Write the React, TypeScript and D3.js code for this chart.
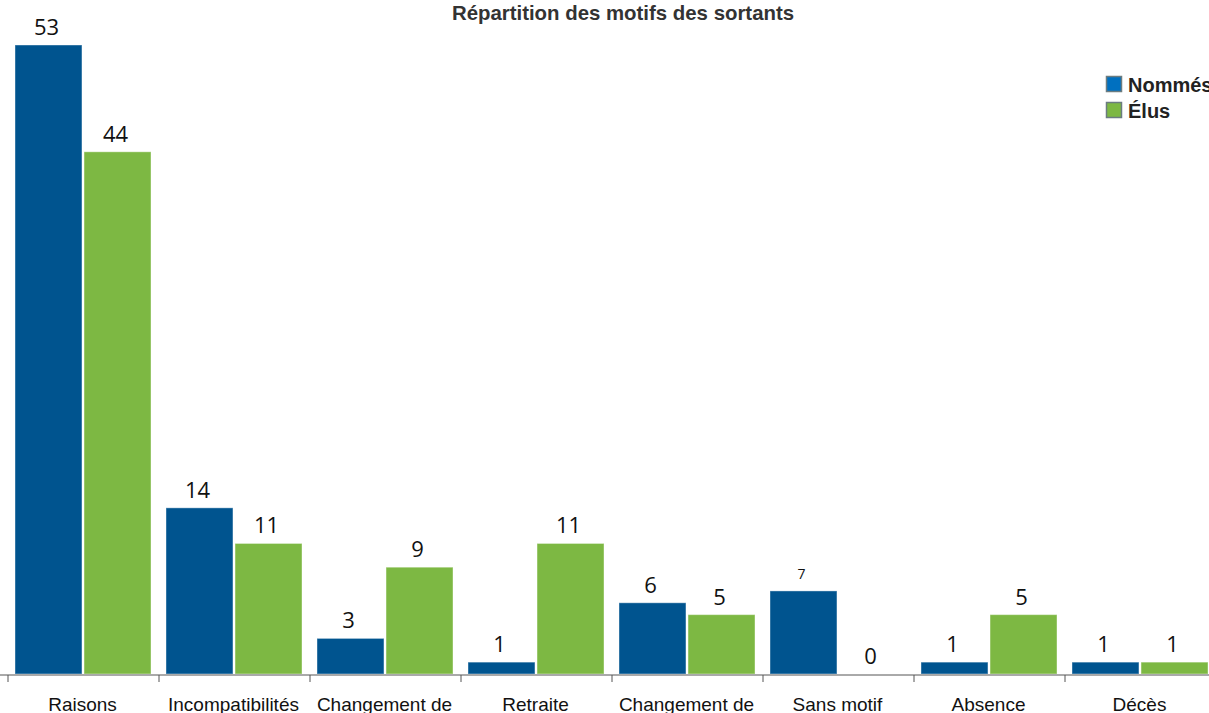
import React from "react";
import * as d3 from "d3";

const categories = ["Raisons", "Incompatibilités", "Changement de", "Retraite", "Changement de", "Sans motif", "Absence", "Décès"];
const seriesNames = ["Nommés", "Élus"];
const nommes = [53, 14, 3, 1, 6, 7, 1, 1];
const elus = [44, 11, 9, 11, 5, 0, 5, 1];
const colors = ["#00548F", "#7DB843"];

const W = 1209;
const H = 713;

export default function App() {
  const idx = categories.map((_, i) => String(i));
  const x0 = d3.scaleBand<string>().domain(idx).range([8, 8 + 151 * categories.length]).padding(0);
  const x1 = d3.scaleBand<string>().domain(seriesNames).range([7, 143]).paddingInner(0.03);
  const y = d3.scaleLinear().domain([0, 53]).range([674, 45]);
  const series = [nommes, elus];
  const ticks = d3.range(categories.length + 1).map((i) => 8 + i * x0.step());

  return (
    <svg width={W} height={H} style={{ position: "absolute", left: 0, top: 0, background: "#fff" }}>
      <text x={623} y={20} textAnchor="middle" fontFamily="Liberation Sans, Arial, sans-serif" fontWeight="bold" fontSize={20.4} fill="#333">
        Répartition des motifs des sortants
      </text>
      {categories.map((c, i) => (
        <g key={i} transform={`translate(${x0(String(i))},0)`}>
          {series.map((s, k) => {
            const v = s[i];
            const bx = x1(seriesNames[k])!;
            const bw = x1.bandwidth();
            const top = y(v);
            const small = k === 0 && i === 5;
            return (
              <g key={k}>
                {v > 0 && (
                  <rect x={bx} y={top} width={bw} height={y(0) - top} fill={colors[k]} stroke="#ffffff" strokeOpacity={0.4} strokeWidth={1} />
                )}
                <text x={bx + bw / 2 - 2} y={top - (small ? 12 : 10)} textAnchor="middle" fontFamily="Open Sans, Noto Sans, sans-serif" fontSize={small ? 14 : 22} fill="#111">
                  {v}
                </text>
              </g>
            );
          })}
          <text x={x0.bandwidth() / 2 - 1} y={711} textAnchor="middle" fontFamily="Liberation Sans, Arial, sans-serif" fontSize={19} fill="#111">
            {c}
          </text>
        </g>
      ))}
      <line x1={0} x2={W} y1={675} y2={675} stroke="#555" strokeWidth={1} />
      {ticks.map((t, i) => (
        <line key={i} x1={t} x2={t} y1={675} y2={682} stroke="#555" strokeWidth={1} />
      ))}
      {seriesNames.map((n, k) => (
        <g key={n} transform={`translate(1106,${76 + k * 26})`}>
          <rect x={0.5} y={0.5} width={15} height={15} fill={k === 0 ? "#0070C0" : colors[1]} stroke="#6b7c80" strokeWidth={1.5} />
          <text x={22} y={16} fontFamily="Liberation Sans, Arial, sans-serif" fontWeight="bold" fontSize={20} fill="#222">
            {n}
          </text>
        </g>
      ))}
    </svg>
  );
}
